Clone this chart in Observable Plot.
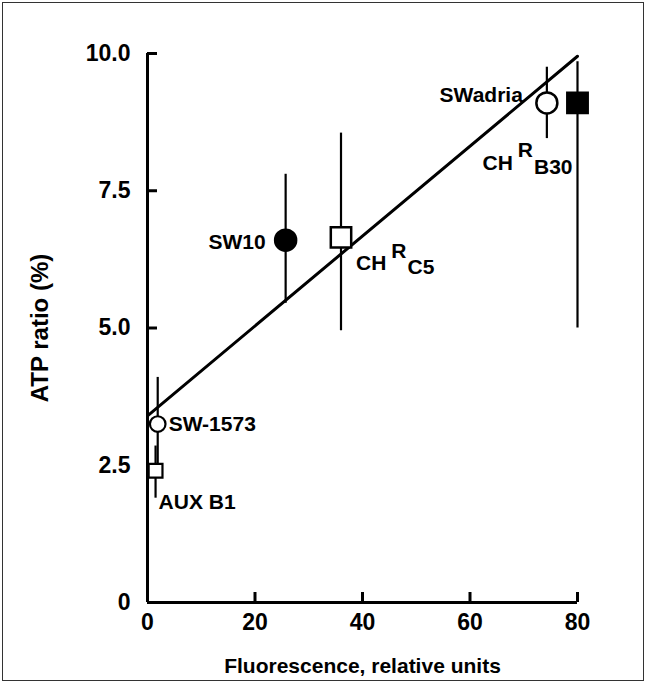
<!DOCTYPE html>
<html><head><meta charset="utf-8">
<script src="https://cdn.jsdelivr.net/npm/d3@7"></script>
<script src="https://cdn.jsdelivr.net/npm/@observablehq/plot@0.6"></script>
<style>
html,body{margin:0;padding:0;background:#fff;}
#wrap{position:relative;width:647px;height:683px;overflow:hidden;}
#wrap svg{display:block;}
#border{position:absolute;left:2px;top:2px;width:640px;height:677px;border:1.5px solid #333;pointer-events:none;}
</style></head><body><div id="wrap"><div id="border"></div></div>
<script>
// data
const strains      = ["SW-1573", "AUX B1", "SW10", "CHRC5", "SWadria", "CHRB30"];
const fluorescence = [1.9, 1.5, 25.7, 36, 74.3, 80];
const atpRatio     = [3.25, 2.4, 6.6, 6.65, 9.1, 9.1];
const errLow       = [2.5, 1.9, 5.45, 4.95, 8.45, 5.0];
const errHigh      = [4.1, 2.85, 7.8, 8.55, 9.75, 9.85];
const markerShape  = ["circle", "square", "circle", "square", "circle", "square"];
const markerFill   = ["white", "white", "black", "white", "white", "black"];
const labelMain    = ["SW-1573", "AUX B1", "SW10", "CH", "SWadria", "CH"];
const labelSup     = ["", "", "", "R", "", "R"];
const labelSub     = ["", "", "", "C5", "", "B30"];
// fitted line endpoints as drawn
const fitX = [0, 80];
const fitY = [3.4, 9.95];
// ticks
const xTicks = [0, 20, 40, 60, 80];
const xTickLabels = ["0", "20", "40", "60", "80"];
const yTicks = [0, 2.5, 5, 7.5, 10];
const yTickLabels = ["0", "2.5", "5.0", "7.5", "10.0"];

const idx = d3.range(strains.length);
const smallSet = new Set(["SW-1573", "AUX B1"]);
const FONT = "'Liberation Sans', Arial, Helvetica, sans-serif";

const lab = (name, opts) => Plot.text(idx.filter(i => strains[i] === name), {
  x: i => fluorescence[i], y: i => atpRatio[i],
  text: i => [labelMain[i], labelSup[i], labelSub[i]].filter(Boolean).join("|"),
  fontSize: 21, fontWeight: "bold", fill: "black", ...opts
});

const chart = Plot.plot({
  width: 647, height: 683,
  marginLeft: 147, marginRight: 70, marginTop: 53, marginBottom: 81,
  style: {fontFamily: FONT, background: "transparent", overflow: "visible"},
  x: {domain: [0, 80]},
  y: {domain: [0, 10]},
  marks: [
    Plot.ruleX([0], {strokeWidth: 3}),
    Plot.ruleY([0], {strokeWidth: 3}),
    Plot.axisY({ticks: yTicks, tickFormat: d => yTickLabels[yTicks.indexOf(d)], tickSize: -10, tickPadding: 27,
      strokeWidth: 3, fontSize: 23, fontWeight: "bold", label: null}),
    Plot.axisY({ticks: [], label: "ATP ratio (%)", labelAnchor: "center", labelOffset: 117, labelArrow: "none",
      fontSize: 24, fontWeight: "bold"}),
    Plot.axisX({ticks: xTicks, tickFormat: d => xTickLabels[xTicks.indexOf(d)], tickSize: -10, tickPadding: 21,
      strokeWidth: 3, fontSize: 23, fontWeight: "bold", label: null}),
    Plot.axisX({ticks: [], label: "Fluorescence, relative units", labelAnchor: "center", labelOffset: 70, labelArrow: "none",
      fontSize: 21, fontWeight: "bold"}),
    Plot.line(d3.range(fitX.length), {x: i => fitX[i], y: i => fitY[i], stroke: "black", strokeWidth: 3}),
    Plot.ruleX(idx, {x: i => fluorescence[i], y1: i => errLow[i], y2: i => errHigh[i], stroke: "black", strokeWidth: 2.2}),
    Plot.dot(idx.filter(i => !smallSet.has(strains[i]) && markerShape[i] === "circle"), {
      x: i => fluorescence[i], y: i => atpRatio[i], symbol: "circle", r: 10.5,
      fill: i => markerFill[i], stroke: "black", strokeWidth: 2.5}),
    Plot.dot(idx.filter(i => !smallSet.has(strains[i]) && markerShape[i] === "square"), {
      x: i => fluorescence[i], y: i => atpRatio[i], symbol: "square", r: 11.5,
      fill: i => markerFill[i], stroke: "black", strokeWidth: 2.5}),
    Plot.dot(idx.filter(i => smallSet.has(strains[i])), {
      x: i => fluorescence[i], y: i => atpRatio[i], symbol: i => markerShape[i], r: 7.8,
      fill: i => markerFill[i], stroke: "black", strokeWidth: 2.2}),
    lab("SW-1573", {textAnchor: "start", dx: 11, dy: 0}),
    lab("AUX B1", {textAnchor: "start", dx: 3, dy: 32}),
    lab("SW10", {textAnchor: "end", dx: -20, dy: 2}),
    lab("CHRC5", {textAnchor: "start", dx: 15, dy: 26}),
    lab("SWadria", {textAnchor: "end", dx: -24, dy: -8}),
    lab("CHRB30", {textAnchor: "start", dx: -95, dy: 60})
  ]
});

const ns = "http://www.w3.org/2000/svg";
chart.querySelectorAll("text").forEach(t => {
  const s = t.textContent;
  if (!s.includes("|")) return;
  const [m, sup, sub] = s.split("|");
  t.textContent = "";
  const a = document.createElementNS(ns, "tspan"); a.textContent = m; t.appendChild(a);
  const b = document.createElementNS(ns, "tspan"); b.setAttribute("dx", "5"); b.setAttribute("dy", "-0.6em"); b.textContent = sup; t.appendChild(b);
  const c = document.createElementNS(ns, "tspan"); c.setAttribute("dx", "1"); c.setAttribute("dy", "0.8em"); c.textContent = sub; t.appendChild(c);
});
document.getElementById("wrap").prepend(chart);
</script></body></html>
